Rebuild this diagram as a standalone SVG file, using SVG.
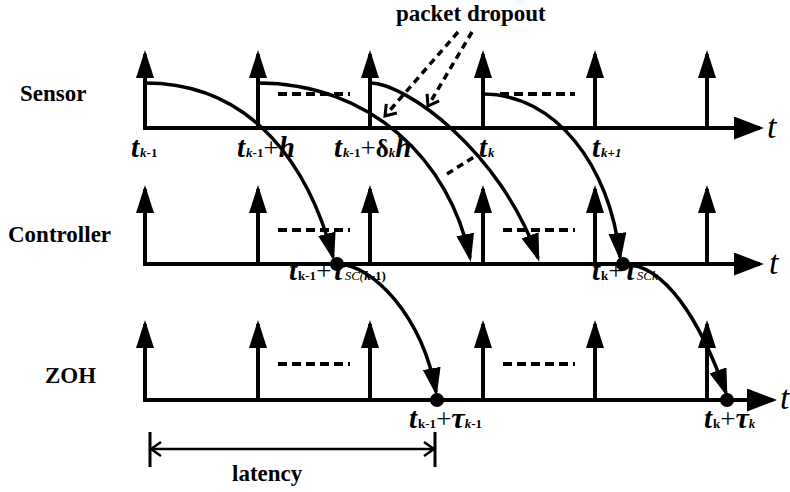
<svg xmlns="http://www.w3.org/2000/svg" width="790" height="492" viewBox="0 0 790 492">
<style>
.ln{stroke:#000;stroke-width:4;fill:none}
.imp{stroke:#000;stroke-width:4;fill:none;marker-end:url(#tri)}
.axis{stroke:#000;stroke-width:4;fill:none;marker-end:url(#axm)}
.dash{stroke:#000;stroke-width:4;stroke-dasharray:9 5;fill:none}
.cv{stroke:#000;stroke-width:3.5;fill:none;marker-end:url(#tri)}
.dd{stroke:#000;stroke-width:3.5;stroke-dasharray:7 5;fill:none}
.lbl{font-family:"Liberation Serif","DejaVu Serif",serif;font-weight:bold;font-size:23px;fill:#000}
.tx{font-family:"Liberation Serif","DejaVu Serif",serif;fill:#000}
.ti{font-weight:bold;font-style:italic;font-size:29px}
.sb{font-weight:bold;font-size:13px}
.sbi{font-weight:bold;font-style:italic;font-size:13px}
.si{font-style:italic;font-size:13px}
.pl{font-size:27px}
.gr{font-weight:bold;font-size:25px}
.tau{font-weight:bold;font-style:italic;font-size:30px}
.ax{font-family:"Liberation Serif","DejaVu Serif",serif;font-style:italic;font-size:34px;fill:#000}
</style>
<defs>
<marker id="tri" markerUnits="userSpaceOnUse" viewBox="0 0 28 18" markerWidth="28" markerHeight="18" refX="24" refY="9" orient="auto"><path d="M0,0 L28,9 L0,18 z" fill="#000"/></marker>
<marker id="axm" markerUnits="userSpaceOnUse" viewBox="0 0 30 23" markerWidth="30" markerHeight="23" refX="26" refY="11.5" orient="auto"><path d="M0,0 L30,11.5 L0,23 z" fill="#000"/></marker>
<marker id="chev" markerUnits="userSpaceOnUse" viewBox="0 0 12 16" markerWidth="12" markerHeight="16" refX="11" refY="8" orient="auto" style="overflow:visible"><path d="M1,1 L11,8 L1,15" fill="none" stroke="#000" stroke-width="3"/></marker>
<marker id="chev2" markerUnits="userSpaceOnUse" viewBox="0 0 12 16" markerWidth="12" markerHeight="16" refX="11" refY="8" orient="auto-start-reverse" style="overflow:visible"><path d="M1,1 L11,8 L1,15" fill="none" stroke="#000" stroke-width="2.5"/></marker>
</defs>
<rect width="790" height="492" fill="#fff"/>

<g id="sensor">
<text class="lbl" x="20" y="101">Sensor</text>
<path class="axis" d="M143,128 H760"/>
<path class="imp" d="M145,130 V54"/>
<path class="imp" d="M258,128 V54"/>
<path class="imp" d="M370,128 V54"/>
<path class="imp" d="M483,128 V54"/>
<path class="imp" d="M595,128 V54"/>
<path class="imp" d="M707,128 V54"/>
<path class="dash" d="M278,94 H350 M500,94 H575"/>
<text class="ax" x="767" y="138">t</text>
<text class="tx" x="131" y="157"><tspan class="ti">t</tspan><tspan class="sbi" dx="1">k</tspan><tspan class="sb">-1</tspan></text>
<text class="tx" x="237" y="157"><tspan class="ti">t</tspan><tspan class="sbi" dx="1">k</tspan><tspan class="sb">-1</tspan><tspan class="pl">+</tspan><tspan class="ti">h</tspan></text>
<text class="tx" x="334" y="157"><tspan class="ti">t</tspan><tspan class="sbi" dx="1">k</tspan><tspan class="sb">-1</tspan><tspan class="pl">+</tspan><tspan class="gr">δ</tspan><tspan class="sbi">k</tspan><tspan class="ti">h</tspan></text>
<text class="tx" x="479" y="157"><tspan class="ti">t</tspan><tspan class="sbi" dx="1">k</tspan></text>
<text class="tx" x="592" y="157"><tspan class="ti">t</tspan><tspan class="sbi" dx="1">k+1</tspan></text>
</g>

<g id="controller">
<text class="lbl" x="8" y="242">Controller</text>
<path class="axis" d="M143,264 H760"/>
<path class="imp" d="M145,266 V189"/>
<path class="imp" d="M258,264 V189"/>
<path class="imp" d="M370,264 V189"/>
<path class="imp" d="M483,264 V189"/>
<path class="imp" d="M595,264 V189"/>
<path class="imp" d="M707,264 V189"/>
<path class="dash" d="M278,230 H350 M503,230 H575"/>
<circle cx="337" cy="264" r="7"/>
<circle cx="623" cy="264" r="7"/>
<text class="ax" x="769" y="274">t</text>
<text class="tx" x="289" y="280"><tspan class="ti">t</tspan><tspan class="sb" dx="1">k-1</tspan><tspan class="pl">+</tspan><tspan class="tau">τ</tspan><tspan class="si">SC(</tspan><tspan class="sbi">k</tspan><tspan class="sb">-1)</tspan></text>
<text class="tx" x="592" y="280"><tspan class="ti">t</tspan><tspan class="sb" dx="1">k</tspan><tspan class="pl">+</tspan><tspan class="tau">τ</tspan><tspan class="si">SCk</tspan></text>
</g>

<g id="zoh">
<text class="lbl" x="45" y="383">ZOH</text>
<path class="axis" d="M143,400 H773"/>
<path class="imp" d="M145,402 V324"/>
<path class="imp" d="M258,400 V324"/>
<path class="imp" d="M370,400 V324"/>
<path class="imp" d="M483,400 V324"/>
<path class="imp" d="M595,400 V324"/>
<path class="imp" d="M707,400 V324"/>
<path class="dash" d="M278,364 H350 M503,364 H575"/>
<circle cx="437" cy="400" r="7"/>
<circle cx="727" cy="400" r="7"/>
<text class="ax" x="780" y="409">t</text>
<text class="tx" x="409" y="428"><tspan class="ti">t</tspan><tspan class="sb" dx="1">k-1</tspan><tspan class="pl">+</tspan><tspan class="tau">τ</tspan><tspan class="sbi">k</tspan><tspan class="sb">-1</tspan></text>
<text class="tx" x="704" y="428"><tspan class="ti">t</tspan><tspan class="sb" dx="1">k</tspan><tspan class="pl">+</tspan><tspan class="tau">τ</tspan><tspan class="sbi">k</tspan></text>
</g>

<g id="latency">
<path d="M150,432 V467 M435,432 V467" stroke="#000" stroke-width="3" fill="none"/>
<path d="M151,449 H434" stroke="#000" stroke-width="2.5" fill="none" marker-start="url(#chev2)" marker-end="url(#chev2)"/>
<text class="lbl" x="232" y="481">latency</text>
</g>

<g id="dropout-label">
<text class="lbl" x="396" y="21">packet dropout</text>
</g>

<g id="connectors">
<path class="cv" d="M145,83 C255,83 310,170 333,257"/>
<path class="cv" d="M258,83 C370,83 450,160 470,258"/>
<path class="cv" d="M370,83 C405,83 500,150 538,258"/>
<path class="cv" d="M483,94 C555,94 610,165 620,257"/>
<path class="cv" d="M337,264 C372,264 422,315 436,392"/>
<path class="cv" d="M623,264 C665,264 700,320 726,393"/>
<path class="dd" d="M458,32 L385,116" marker-end="url(#chev)"/>
<path class="dd" d="M472,32 L428,106" marker-end="url(#chev)"/>
<path class="dd" d="M447,174 L477,155"/>
</g>
</svg>
